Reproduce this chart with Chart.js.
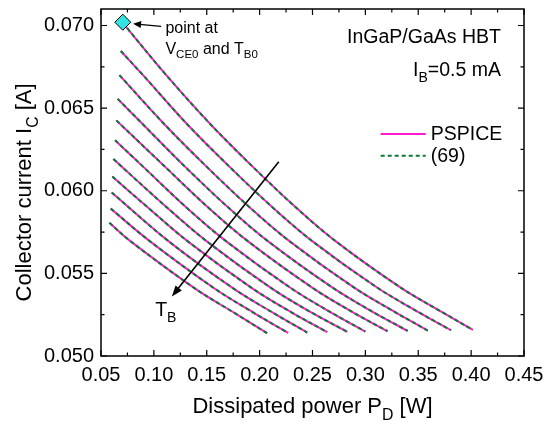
<!DOCTYPE html>
<html>
<head>
<meta charset="utf-8">
<script src="https://cdn.jsdelivr.net/npm/chart.js@4"></script>
<style>
  html, body { margin: 0; padding: 0; background: #fff; }
</style>
</head>
<body>
<canvas id="icChart" width="550" height="425"></canvas>
<script>
// Dissipated power P_D [W] per curve (one curve per base temperature T_B)
const pd = [
    [0.0706, 0.1107, 0.1533, 0.1934, 0.2341, 0.2718, 0.3334, 0.3713, 0.4017],
    [0.0687, 0.0887, 0.1313, 0.1714, 0.2121, 0.2498, 0.3114, 0.3493, 0.381],
    [0.0674, 0.1097, 0.1498, 0.1905, 0.2282, 0.2898, 0.3277, 0.359],
    [0.0658, 0.0893, 0.1294, 0.1701, 0.2078, 0.2694, 0.3073, 0.340],
    [0.0645, 0.1104, 0.1511, 0.1888, 0.2504, 0.2883, 0.321],
    [0.0633, 0.0898, 0.1305, 0.1682, 0.2298, 0.2677, 0.300],
    [0.0617, 0.1121, 0.1498, 0.2114, 0.2493, 0.283],
    [0.0607, 0.0941, 0.1318, 0.1934, 0.2313, 0.264],
    [0.0601, 0.1138, 0.1754, 0.2133, 0.245],
    [0.0592, 0.0961, 0.1577, 0.1956, 0.227],
    [0.0579, 0.0778, 0.1394, 0.1773, 0.207]
];
// Collector current I_C [A] per curve
const ic = [
    [0.07016, 0.06707, 0.06404, 0.06146, 0.0590, 0.05695, 0.05414, 0.0527, 0.05158],
    [0.06846, 0.06707, 0.06404, 0.06146, 0.0590, 0.05695, 0.05413, 0.05269, 0.05156],
    [0.0670, 0.06404, 0.06146, 0.0590, 0.05695, 0.05412, 0.05267, 0.05154],
    [0.06556, 0.06404, 0.06146, 0.0590, 0.05695, 0.05412, 0.05266, 0.05152],
    [0.06426, 0.06146, 0.0590, 0.05695, 0.05411, 0.05264, 0.0515],
    [0.06306, 0.06146, 0.0590, 0.05695, 0.0541, 0.05263, 0.05148],
    [0.06192, 0.0590, 0.05695, 0.05409, 0.05262, 0.05146],
    [0.06086, 0.0590, 0.05695, 0.05408, 0.0526, 0.05144],
    [0.0599, 0.05695, 0.05408, 0.05259, 0.05142],
    [0.05892, 0.05695, 0.05407, 0.05257, 0.0514],
    [0.05806, 0.05695, 0.05406, 0.05256, 0.05138]
];
// operating point at V_CE0 and T_B0
const startPd = [0.0706];
const startIc = [0.0702];

const xTicks = [0.05, 0.10, 0.15, 0.20, 0.25, 0.30, 0.35, 0.40, 0.45];
const yTicks = [0.050, 0.055, 0.060, 0.065, 0.070];

const FONT = "'Liberation Sans', Arial, sans-serif";
const PINK = '#ff1acb';
const GREEN = '#0a7a35';

// text made of pieces, some of them subscripts: [[text, isSub], ...]
function richWidth(ctx, parts, size) {
    let w = 0;
    parts.forEach(([t, sub]) => {
        ctx.font = (sub ? size * 0.72 : size) + 'px ' + FONT;
        w += ctx.measureText(t).width;
    });
    return w;
}
function drawRich(ctx, parts, x, y, size, align) {
    const w = richWidth(ctx, parts, size);
    let cx = align === 'right' ? x - w : align === 'center' ? x - w / 2 : x;
    ctx.textAlign = 'left';
    ctx.textBaseline = 'alphabetic';
    parts.forEach(([t, sub]) => {
        ctx.font = (sub ? size * 0.72 : size) + 'px ' + FONT;
        ctx.fillText(t, cx, sub ? y + size * 0.3 : y);
        cx += ctx.measureText(t).width;
    });
}
function arrow(ctx, x1, y1, x2, y2, len, half) {
    const ang = Math.atan2(y2 - y1, x2 - x1);
    ctx.beginPath();
    ctx.moveTo(x1, y1);
    ctx.lineTo(x2 - Math.cos(ang) * len * 0.8, y2 - Math.sin(ang) * len * 0.8);
    ctx.stroke();
    ctx.beginPath();
    ctx.moveTo(x2, y2);
    ctx.lineTo(x2 - Math.cos(ang) * len - Math.sin(ang) * half, y2 - Math.sin(ang) * len + Math.cos(ang) * half);
    ctx.lineTo(x2 - Math.cos(ang) * len + Math.sin(ang) * half, y2 - Math.sin(ang) * len - Math.cos(ang) * half);
    ctx.closePath();
    ctx.fill();
}

const decor = {
    id: 'decor',
    afterDraw(chart) {
        const ctx = chart.ctx;
        const xs = chart.scales.x, ys = chart.scales.y;
        const a = chart.chartArea;
        const X = v => xs.getPixelForValue(v), Y = v => ys.getPixelForValue(v);
        ctx.save();
        ctx.strokeStyle = '#000';
        ctx.fillStyle = '#000';
        ctx.lineWidth = 1.5;
        ctx.strokeRect(a.left, a.top, a.right - a.left, a.bottom - a.top);

        // inward ticks on all four sides, minor ones half way
        ctx.lineWidth = 1.2;
        ctx.beginPath();
        xTicks.forEach((v, i) => {
            const px = X(v);
            ctx.moveTo(px, a.bottom); ctx.lineTo(px, a.bottom - 6);
            ctx.moveTo(px, a.top); ctx.lineTo(px, a.top + 6);
            if (i < xTicks.length - 1) {
                const mx = X((v + xTicks[i + 1]) / 2);
                ctx.moveTo(mx, a.bottom); ctx.lineTo(mx, a.bottom - 3.5);
                ctx.moveTo(mx, a.top); ctx.lineTo(mx, a.top + 3.5);
            }
        });
        yTicks.forEach((v, i) => {
            const py = Y(v);
            ctx.moveTo(a.left, py); ctx.lineTo(a.left + 6, py);
            ctx.moveTo(a.right, py); ctx.lineTo(a.right - 6, py);
            const next = i < yTicks.length - 1 ? yTicks[i + 1] : v + 0.005;
            const my = Y((v + next) / 2);
            if (my > a.top) {
                ctx.moveTo(a.left, my); ctx.lineTo(a.left + 3.5, my);
                ctx.moveTo(a.right, my); ctx.lineTo(a.right - 3.5, my);
            }
        });
        ctx.stroke();

        // axis titles
        drawRich(ctx, [['Dissipated power P', false], ['D', true], [' [W]', false]],
            (a.left + a.right) / 2, 413, 22, 'center');
        ctx.save();
        ctx.translate(31, Y(0.0599));
        ctx.rotate(-Math.PI / 2);
        drawRich(ctx, [['Collector current I', false], ['C', true], [' [A]', false]], 0, 0, 22, 'center');
        ctx.restore();

        // labels inside the plot
        drawRich(ctx, [['InGaP/GaAs HBT', false]], X(0.4282), Y(0.06896), 19.5, 'right');
        drawRich(ctx, [['I', false], ['B', true], ['=0.5 mA', false]], X(0.4282), Y(0.06692), 19.5, 'right');

        // legend
        ctx.lineWidth = 2;
        ctx.strokeStyle = PINK;
        ctx.beginPath();
        ctx.moveTo(X(0.3145), Y(0.06344)); ctx.lineTo(X(0.3571), Y(0.06344));
        ctx.stroke();
        ctx.strokeStyle = GREEN;
        ctx.setLineDash([4, 3]);
        ctx.beginPath();
        ctx.moveTo(X(0.3145), Y(0.06212)); ctx.lineTo(X(0.3571), Y(0.06212));
        ctx.stroke();
        ctx.setLineDash([]);
        ctx.font = '19.5px ' + FONT;
        ctx.textBaseline = 'middle';
        ctx.fillText('PSPICE', X(0.3618), Y(0.06344) + 1);
        ctx.fillText('(69)', X(0.3618), Y(0.06212) + 1);

        // point annotation
        drawRich(ctx, [['point at', false]], X(0.1109), Y(0.06955), 16, 'left');
        drawRich(ctx, [['V', false], ['CE0', true], [' and T', false], ['B0', true]],
            X(0.1109), Y(0.06830), 16, 'left');
        ctx.strokeStyle = '#000';
        ctx.lineWidth = 1.3;
        arrow(ctx, X(0.1069), Y(0.06995), X(0.0803), Y(0.0701), 8, 3.5);

        // T_B direction arrow
        ctx.lineWidth = 1.6;
        arrow(ctx, X(0.2181), Y(0.06176), X(0.1170), Y(0.0536), 11, 4);
        drawRich(ctx, [['T', false], ['B', true]], X(0.1012), Y(0.05240), 19.5, 'left');
        ctx.restore();
    }
};

const datasets = [];
datasets.push({
    label: 'start',
    data: startPd.map((x, i) => ({ x: x, y: startIc[i] })),
    showLine: false,
    pointStyle: 'rectRot',
    pointRadius: 8,
    backgroundColor: '#33e3e3',
    borderColor: '#000',
    borderWidth: 1,
    order: 0
});
pd.forEach((xs, k) => {
    const pts = xs.map((x, i) => ({ x: x, y: ic[k][i] }));
    datasets.push({
        label: '(69)',
        data: pts,
        borderColor: GREEN,
        borderWidth: 2,
        borderDash: [4, 3],
        pointRadius: 0,
        tension: 0.35,
        order: 1
    });
    datasets.push({
        label: 'PSPICE',
        data: pts,
        borderColor: PINK,
        borderWidth: 2,
        pointRadius: 0,
        tension: 0.35,
        order: 2
    });
});

new Chart(document.getElementById('icChart'), {
    type: 'line',
    data: { datasets: datasets },
    options: {
        responsive: false,
        animation: false,
        layout: { padding: { left: 0, right: 26, top: 6, bottom: 0 } },
        plugins: { legend: { display: false }, tooltip: { enabled: false } },
        scales: {
            x: {
                type: 'linear',
                min: 0.05,
                max: 0.45,
                afterFit: s => { s.height = 69; s.paddingLeft = 0; s.paddingRight = 0; },
                grid: { display: false, drawTicks: false },
                border: { display: false },
                ticks: {
                    stepSize: 0.05,
                    includeBounds: false,
                    autoSkip: false,
                    maxRotation: 0,
                    padding: 7,
                    color: '#000',
                    font: { size: 20, family: FONT },
                    callback: v => v.toFixed(2)
                }
            },
            y: {
                type: 'linear',
                min: 0.05,
                max: 0.071,
                afterFit: s => { s.width = 101; s.paddingTop = 0; s.paddingBottom = 0; },
                grid: { display: false, drawTicks: false },
                border: { display: false },
                ticks: {
                    stepSize: 0.005,
                    includeBounds: false,
                    autoSkip: false,
                    padding: 7,
                    color: '#000',
                    font: { size: 20, family: FONT },
                    callback: v => v.toFixed(3)
                }
            }
        }
    },
    plugins: [decor]
});
</script>
</body>
</html>
